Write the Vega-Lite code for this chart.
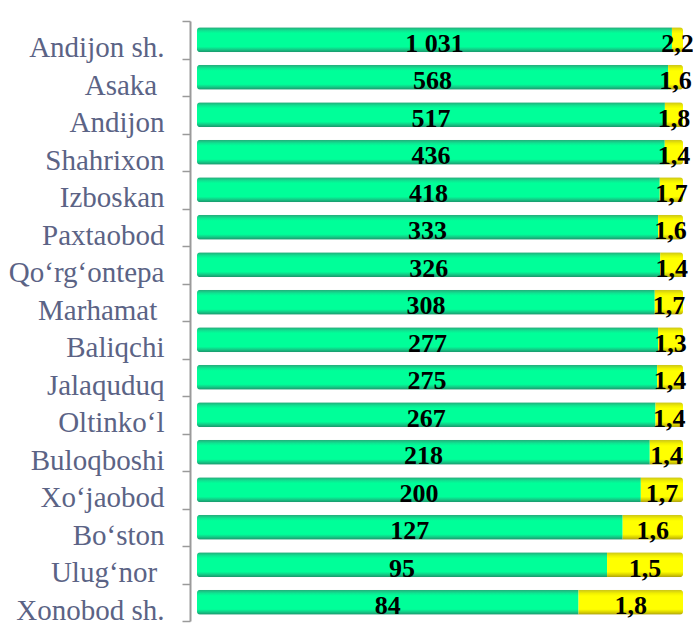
{
  "$schema": "https://vega.github.io/schema/vega-lite/v6.json",
  "width": 486,
  "height": 600,
  "autosize": "none",
  "padding": {"left": 197, "top": 21, "right": 10, "bottom": 5},
  "background": "white",
  "config": {"view": {"stroke": null}},
  "data": {
    "values": [
      {"rank": 1, "region": "Andijon sh.", "part": 1, "len": 1031, "label": "1 031"},
      {"rank": 1, "region": "Andijon sh.", "part": 2, "len": 24, "label": "2,2"},
      {"rank": 2, "region": "Asaka \u200b", "part": 1, "len": 568, "label": "568"},
      {"rank": 2, "region": "Asaka \u200b", "part": 2, "len": 18, "label": "1,6"},
      {"rank": 3, "region": "Andijon", "part": 1, "len": 517, "label": "517"},
      {"rank": 3, "region": "Andijon", "part": 2, "len": 20, "label": "1,8"},
      {"rank": 4, "region": "Shahrixon", "part": 1, "len": 436, "label": "436"},
      {"rank": 4, "region": "Shahrixon", "part": 2, "len": 17, "label": "1,4"},
      {"rank": 5, "region": "Izboskan", "part": 1, "len": 418, "label": "418"},
      {"rank": 5, "region": "Izboskan", "part": 2, "len": 21, "label": "1,7"},
      {"rank": 6, "region": "Paxtaobod", "part": 1, "len": 333, "label": "333"},
      {"rank": 6, "region": "Paxtaobod", "part": 2, "len": 18, "label": "1,6"},
      {"rank": 7, "region": "Qo‘rg‘ontepa", "part": 1, "len": 326, "label": "326"},
      {"rank": 7, "region": "Qo‘rg‘ontepa", "part": 2, "len": 16, "label": "1,4"},
      {"rank": 8, "region": "Marhamat \u200b", "part": 1, "len": 308, "label": "308"},
      {"rank": 8, "region": "Marhamat \u200b", "part": 2, "len": 19, "label": "1,7"},
      {"rank": 9, "region": "Baliqchi", "part": 1, "len": 277, "label": "277"},
      {"rank": 9, "region": "Baliqchi", "part": 2, "len": 15, "label": "1,3"},
      {"rank": 10, "region": "Jalaquduq", "part": 1, "len": 275, "label": "275"},
      {"rank": 10, "region": "Jalaquduq", "part": 2, "len": 15.5, "label": "1,4"},
      {"rank": 11, "region": "Oltinko‘l", "part": 1, "len": 267, "label": "267"},
      {"rank": 11, "region": "Oltinko‘l", "part": 2, "len": 16, "label": "1,4"},
      {"rank": 12, "region": "Buloqboshi", "part": 1, "len": 218, "label": "218"},
      {"rank": 12, "region": "Buloqboshi", "part": 2, "len": 16, "label": "1,4"},
      {"rank": 13, "region": "Xo‘jaobod", "part": 1, "len": 200, "label": "200"},
      {"rank": 13, "region": "Xo‘jaobod", "part": 2, "len": 19, "label": "1,7"},
      {"rank": 14, "region": "Bo‘ston", "part": 1, "len": 127, "label": "127"},
      {"rank": 14, "region": "Bo‘ston", "part": 2, "len": 18, "label": "1,6"},
      {"rank": 15, "region": "Ulug‘nor \u200b", "part": 1, "len": 95, "label": "95"},
      {"rank": 15, "region": "Ulug‘nor \u200b", "part": 2, "len": 17.6, "label": "1,5"},
      {"rank": 16, "region": "Xonobod sh.", "part": 1, "len": 84, "label": "84"},
      {"rank": 16, "region": "Xonobod sh.", "part": 2, "len": 23, "label": "1,8"}
    ]
  },
  "encoding": {
    "y": {
      "field": "region",
      "type": "nominal",
      "sort": {"field": "rank", "op": "min", "order": "ascending"},
      "scale": {"paddingInner": 0, "paddingOuter": 0},
      "axis": {
        "title": null,
        "offset": 7,
        "domainColor": "#9a9a9a",
        "domainWidth": 2,
        "tickColor": "#9a9a9a",
        "tickWidth": 1.5,
        "tickSize": 8,
        "tickBand": "extent",
        "tickOffset": 7,
        "labelOffset": 8,
        "labelPadding": 18,
        "labelFont": "Liberation Serif",
        "labelFontSize": 29,
        "labelColor": "#5b6385",
        "labelBaseline": "middle"
      }
    },
    "x": {
      "field": "len",
      "type": "quantitative",
      "stack": "normalize",
      "scale": {"domain": [0, 1]},
      "axis": null
    },
    "order": {"field": "part", "type": "ordinal"}
  },
  "layer": [
    {
      "mark": {"type": "bar", "size": 25, "cornerRadius": 3},
      "encoding": {
        "fill": {
          "condition": {
            "test": "datum.part == 1",
            "value": {
              "gradient": "linear", "x1": 0, "y1": 0, "x2": 0, "y2": 1,
              "stops": [
                {"offset": 0, "color": "#26a878"},
                {"offset": 0.14, "color": "#0ee592"},
                {"offset": 0.24, "color": "#00ff99"},
                {"offset": 0.78, "color": "#00ff99"},
                {"offset": 0.88, "color": "#12cf88"},
                {"offset": 1, "color": "#1a936a"}
              ]
            }
          },
          "value": {
            "gradient": "linear", "x1": 0, "y1": 0, "x2": 0, "y2": 1,
            "stops": [
              {"offset": 0, "color": "#c9c31a"},
              {"offset": 0.15, "color": "#f2f000"},
              {"offset": 0.25, "color": "#ffff00"},
              {"offset": 0.78, "color": "#ffff00"},
              {"offset": 0.9, "color": "#d8d000"},
              {"offset": 1, "color": "#a89e10"}
            ]
          }
        }
      }
    },
    {
      "mark": {
        "type": "text",
        "font": "Liberation Serif",
        "fontWeight": "bold",
        "fontSize": 26,
        "color": "black",
        "baseline": "middle",
        "dy": 4
      },
      "encoding": {
        "x": {
          "field": "len",
          "type": "quantitative",
          "stack": "normalize",
          "bandPosition": 0.5
        },
        "text": {"field": "label"}
      }
    }
  ]
}
